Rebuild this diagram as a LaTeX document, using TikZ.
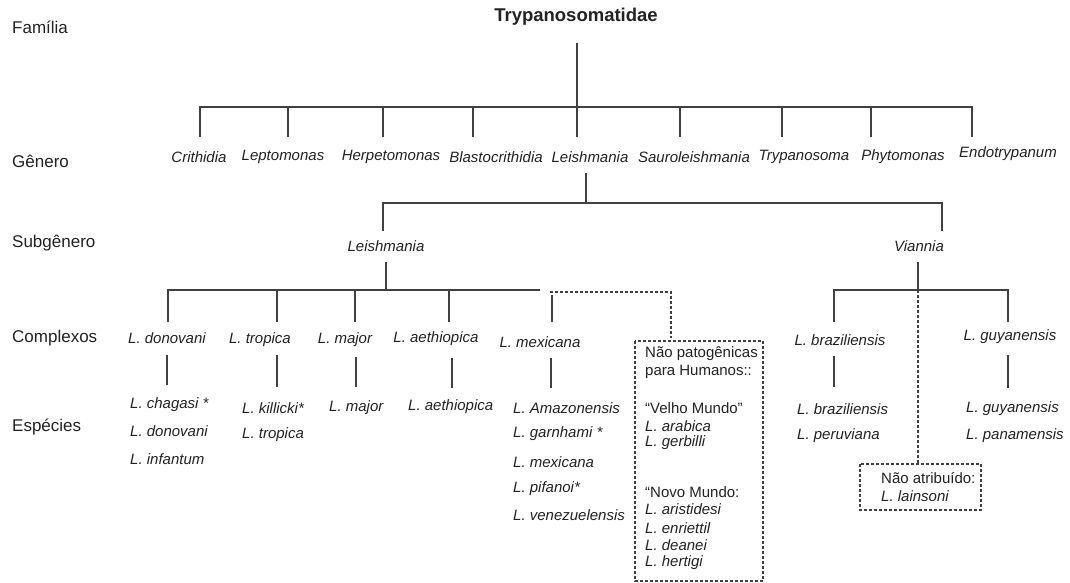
\documentclass[tikz,border=0pt]{standalone}
\usepackage{fontspec}
\setmainfont{Liberation Sans}
\definecolor{linec}{HTML}{404040}
\definecolor{txtc}{HTML}{222222}
\begin{document}
\begin{tikzpicture}[x=1pt,y=-1pt,
  lbl/.style={font=\fontsize{17}{20}\selectfont, anchor=west, inner sep=0, text=txtc},
  gen/.style={font=\fontsize{15}{18}\selectfont\itshape, inner sep=0, text=txtc},
  sp/.style={font=\fontsize{15}{18}\selectfont\itshape, inner sep=0, anchor=west, text=txtc},
  bx/.style={font=\fontsize{15}{18}\selectfont, inner sep=0, anchor=west, text=txtc},
  tree/.style={draw=linec, line width=1.3pt},
  dsh/.style={draw=linec, line width=1.1pt, dash pattern=on 3pt off 2pt}]
\useasboundingbox (0,0) rectangle (1070,583);

% rank labels
\node[lbl] (lfam) at (12,27) {Família};
\node[lbl] (lgen) at (12,161) {Gênero};
\node[lbl] (lsub) at (12,243) {Subgênero};
\node[lbl] (lcom) at (12,338) {Complexos};
\node[lbl] (lesp) at (12,427) {Espécies};

% family
\node[font=\bfseries\fontsize{18.5}{22}\selectfont, inner sep=0, text=txtc] (fam) at (576,17) {Trypanosomatidae};

% genera
\node[gen] (g1) at (199,157) {Crithidia};
\node[gen] (g2) at (283,157) {Leptomonas};
\node[gen] (g3) at (391,157) {Herpetomonas};
\node[gen] (g4) at (496,157) {Blastocrithidia};
\node[gen] (g5) at (590,157) {Leishmania};
\node[gen] (g6) at (694,157) {Sauroleishmania};
\node[gen] (g7) at (804,157) {Trypanosoma};
\node[gen] (g8) at (903,157) {Phytomonas};
\node[gen] (g9) at (1008,154) {Endotrypanum};

\coordinate (famb) at (577,43);
\coordinate (famj) at (577,107);
\draw[tree] (famb) -- (famj);
\draw[tree] (200,137) -- (200,107) -- (972,107) -- (972,137);
\foreach \x in {288,383,473,577,680,782,871} \draw[tree] (\x,107) -- (\x,137);

% subgenera
\node[gen] (sl) at (386,246) {Leishmania};
\node[gen] (sv) at (919,246) {Viannia};
\draw[tree] (586,173) -- (586,203);
\draw[tree] (383,231) -- (383,203) -- (942,203) -- (942,231);

% Leishmania complexes
\draw[tree] (386,262) -- (386,290);
\draw[tree] (168,322) -- (168,290) -- (540,290);
\foreach \x in {277,355,449} \draw[tree] (\x,290) -- (\x,322);
\draw[tree] (552,295) -- (552,322);
\draw[dsh] (550,292) -- (671,292) -- (671,338);

\node[gen] (cdon) at (167,338) {L. donovani};
\node[gen] (ctro) at (260,340) {L. tropica};
\node[gen] (cmaj) at (345,340) {L. major};
\node[gen] (caet) at (436,339) {L. aethiopica};
\node[gen] (cmex) at (540,342) {L. mexicana};

\draw[tree] (167,355) -- (167,385);
\draw[tree] (277,355) -- (277,387);
\draw[tree] (356,357) -- (356,387);
\draw[tree] (452,358) -- (452,388);
\draw[tree] (551,358) -- (551,388);

% species
\node[sp] (s1) at (130,405) {L. chagasi *};
\node[sp] (s2) at (130,431) {L. donovani};
\node[sp] (s3) at (130,459) {L. infantum};
\node[sp] (s4) at (242,408) {L. killicki*};
\node[sp] (s5) at (242,435) {L. tropica};
\node[sp] (s6) at (329,408) {L. major};
\node[sp] (s7) at (408,407) {L. aethiopica};
\node[sp] (s8) at (513,408) {L. Amazonensis};
\node[sp] (s9) at (513,434) {L. garnhami *};
\node[sp] (s10) at (513,462) {L. mexicana};
\node[sp] (s11) at (513,489) {L. pifanoi*};
\node[sp] (s12) at (513,515) {L. venezuelensis};

% non-pathogenic box
\draw[dsh] (635,341) rectangle (763,581);
\node[bx] (n1) at (645,354) {Não patogênicas};
\node[bx] (n2) at (645,372) {para Humanos::};
\node[bx] (n3) at (645,408) {“Velho Mundo”};
\node[sp] (n4) at (645,426) {L. arabica};
\node[sp] (n5) at (645,443) {L. gerbilli};
\node[bx] (n6) at (645,492) {“Novo Mundo:};
\node[sp] (n7) at (645,509) {L. aristidesi};
\node[sp] (n8) at (645,528) {L. enriettil};
\node[sp] (n9) at (645,545) {L. deanei};
\node[sp] (n10) at (645,563) {L. hertigi};

% Viannia
\draw[tree] (918,262) -- (918,290);
\draw[tree] (834,322) -- (834,290) -- (1008,290) -- (1008,322);
\draw[dsh] (918,290) -- (918,464);
\node[gen] (cbra) at (840,340) {L. braziliensis};
\node[gen] (cguy) at (1010,337) {L. guyanensis};
\draw[tree] (834,356) -- (834,387);
\draw[tree] (1008,355) -- (1008,388);
\node[sp] (v1) at (797,409) {L. braziliensis};
\node[sp] (v2) at (797,436) {L. peruviana};
\node[sp] (v3) at (966,409) {L. guyanensis};
\node[sp] (v4) at (966,436) {L. panamensis};

\draw[dsh] (860,464) rectangle (981,510);
\node[bx] (u1) at (881,478) {Não atribuído:};
\node[sp] (u2) at (881,496) {L. lainsoni};
\end{tikzpicture}
\end{document}
